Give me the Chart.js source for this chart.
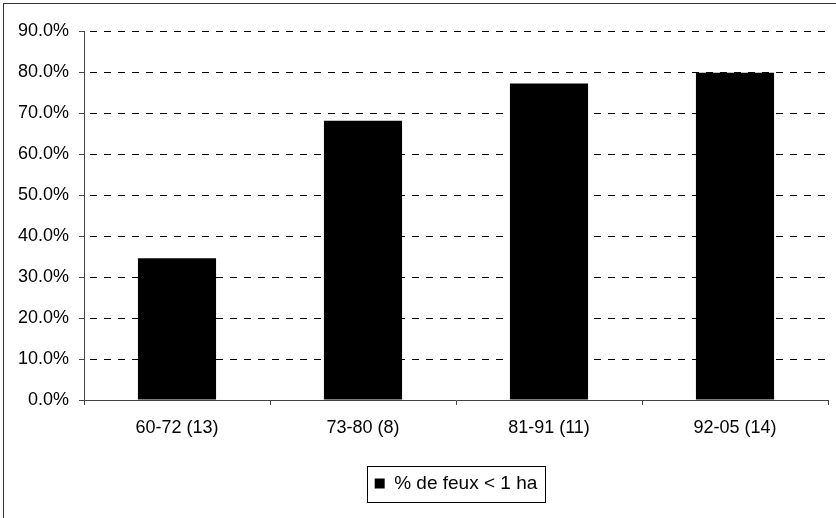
<!DOCTYPE html>
<html>
<head>
<meta charset="utf-8">
<script src="https://cdn.jsdelivr.net/npm/chart.js@4/dist/chart.umd.min.js"></script>
<style>
  html, body { margin: 0; padding: 0; background: #ffffff; }
  #wrap { width: 836px; height: 518px; position: relative; }
</style>
</head>
<body>
<div id="wrap"><canvas id="c" width="836" height="518"></canvas></div>
<script>
// Periods (number of years in brackets)
const categories = ['60-72 (13)', '73-80 (8)', '81-91 (11)', '92-05 (14)'];
// Share of fires smaller than 1 ha, in percent
const shareSmallFires = [34.6, 68.1, 77.2, 79.8];
const seriesLabel = '% de feux < 1 ha';
// Value axis range and step, in percent
const yMax = 90;
const yStep = 10;

const FAMILY = '"Liberation Sans", Arial, sans-serif';
const FONT = { family: FAMILY, size: 18 };
const LEGEND_FONT = { family: FAMILY, size: 19 };
const AXIS_GREY = '#444444';

// Frame around the whole chart and a box around the legend
const framePlugin = {
  id: 'frames',
  beforeDraw(chart) {
    const ctx = chart.ctx;
    ctx.save();
    ctx.fillStyle = '#ffffff';
    ctx.fillRect(0, 0, chart.width, chart.height);
    ctx.strokeStyle = '#333333';
    ctx.lineWidth = 1;
    ctx.strokeRect(3.5, 3.5, chart.width + 10, chart.height + 10);
    ctx.restore();
  },
  afterDraw(chart) {
    const lg = chart.legend;
    if (!lg || !lg.legendHitBoxes || !lg.legendHitBoxes.length) return;
    const hb = lg.legendHitBoxes[0];
    const ctx = chart.ctx;
    ctx.save();
    ctx.strokeStyle = '#000000';
    ctx.lineWidth = 1;
    const x0 = Math.round(hb.left - 8) + 0.5;
    const x1 = Math.round(hb.left + hb.width + 8) + 0.5;
    const yc = hb.top + hb.height / 2;
    const y0 = Math.round(yc - 18) + 0.5;
    const y1 = Math.round(yc + 18) + 0.5;
    ctx.strokeRect(x0, y0, x1 - x0, y1 - y0);
    ctx.restore();
  }
};

new Chart(document.getElementById('c'), {
  type: 'bar',
  data: {
    labels: categories,
    datasets: [{
      label: seriesLabel,
      data: shareSmallFires,
      backgroundColor: '#000000',
      borderWidth: 0,
      categoryPercentage: 1.0,
      barPercentage: 0.42
    }]
  },
  options: {
    responsive: false,
    animation: false,
    devicePixelRatio: 1,
    layout: { padding: { top: 31, left: 0, right: 8, bottom: 15 } },
    plugins: {
      tooltip: { enabled: false },
      legend: {
        position: 'bottom',
        fullSize: false,
        labels: {
          color: '#000000',
          font: LEGEND_FONT,
          boxWidth: 10,
          boxHeight: 10,
          padding: 10,
          useBorderRadius: false
        }
      }
    },
    scales: {
      x: {
        offset: true,
        grid: {
          display: true,
          offset: true,
          drawOnChartArea: false,
          drawTicks: true,
          tickLength: 5,
          color: AXIS_GREY,
          tickColor: AXIS_GREY
        },
        border: { display: true, color: AXIS_GREY, width: 1 },
        ticks: { color: '#000000', font: FONT, padding: 12, maxRotation: 0 },
        afterFit(scale) { scale.height = 64; }
      },
      y: {
        min: 0,
        max: yMax,
        grid: {
          color: (c) => (c.tick && c.tick.value === 0 ? 'rgba(0,0,0,0)' : '#000000'),
          tickColor: AXIS_GREY,
          tickLength: 5,
          drawTicks: true
        },
        border: { display: true, color: AXIS_GREY, width: 1, dash: [7, 7], dashOffset: 9 },
        ticks: {
          stepSize: yStep,
          color: '#000000',
          font: FONT,
          padding: 10,
          callback: (v) => v.toFixed(1) + '%'
        },
        afterFit(scale) { scale.width = 84; }
      }
    }
  },
  plugins: [framePlugin]
});
</script>
</body>
</html>
